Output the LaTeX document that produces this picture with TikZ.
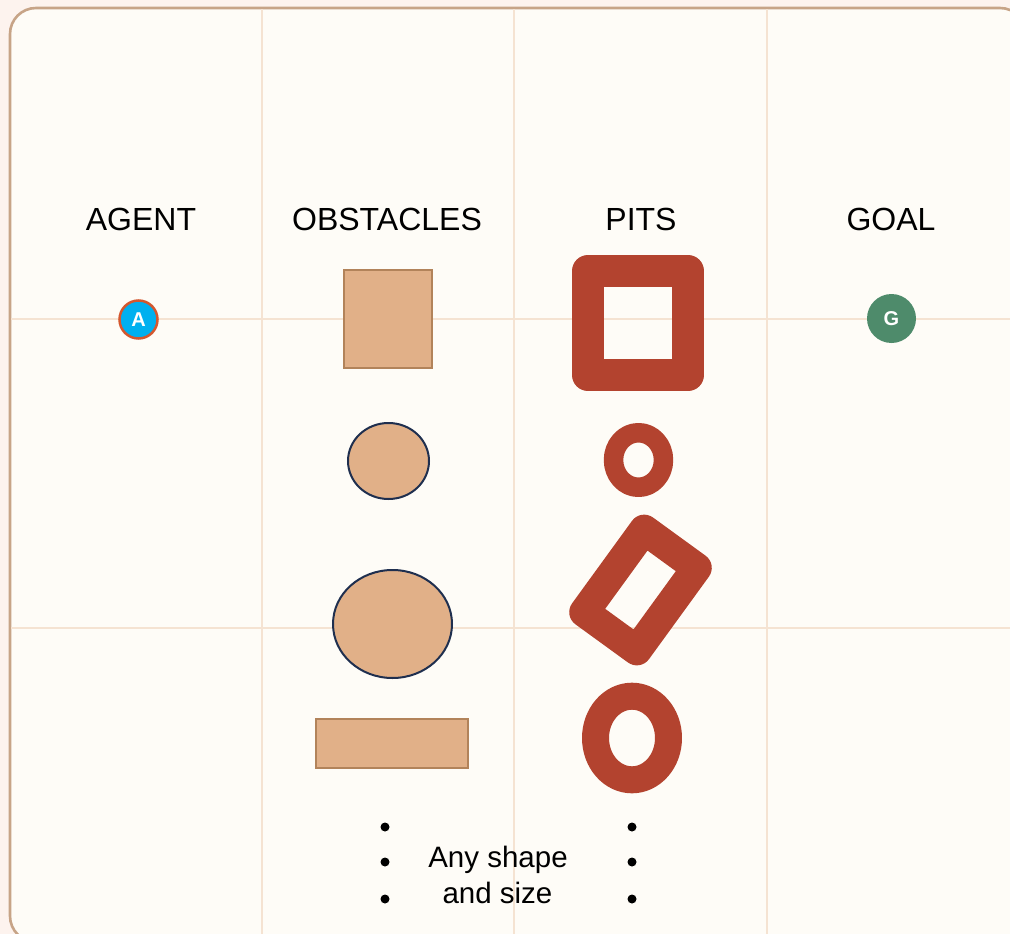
\documentclass[tikz,border=0pt]{standalone}
\usepackage{fontspec}
\setmainfont{Liberation Sans}
\usetikzlibrary{shapes.geometric}
\definecolor{outerbg}{HTML}{FDF3EE}
\definecolor{innerbg}{HTML}{FEFCF7}
\definecolor{framec}{HTML}{C7A487}
\definecolor{gridc}{HTML}{F5E3D2}
\definecolor{obsfill}{HTML}{E1B088}
\definecolor{obsedge}{HTML}{B2835A}
\definecolor{navy}{HTML}{1F2F4F}
\definecolor{pitc}{HTML}{B3432F}
\definecolor{agentc}{HTML}{00B0EF}
\definecolor{agentedge}{HTML}{D4572E}
\definecolor{goalc}{HTML}{4E8B6B}
\tikzset{
  header/.style={font=\fontsize{32}{38}\selectfont, anchor=base, inner sep=0pt},
  small/.style={font=\fontsize{29.5}{35}\selectfont, anchor=base, inner sep=0pt},
  gridline/.style={draw=gridc, line width=1.5pt},
  obsbox/.style={fill=obsfill, draw=obsedge, line width=2pt},
  obsround/.style={fill=obsfill, draw=navy, line width=2pt},
  pit/.style={draw=pitc, line join=round},
  dotc/.style={circle, fill=black, inner sep=0pt, minimum size=9pt},
}
\begin{document}
\begin{tikzpicture}[x=1pt, y=-1pt]
\useasboundingbox (0,0) rectangle (1010,934);
\fill[outerbg] (0,0) rectangle (1010,934);
\draw[framec, fill=innerbg, line width=2.6pt, rounded corners=26pt] (10,8) rectangle (1026,942);
% grid
\begin{scope}
\clip[rounded corners=26pt] (11,9) rectangle (1025,941);
\foreach \gx in {262,514,767} \draw[gridline] (\gx,9) -- (\gx,934);
\foreach \gy in {319,628} \draw[gridline] (11,\gy) -- (1010,\gy);
\end{scope}
% headers
\node[header] (hagent) at (141,230) {AGENT};
\node[header] (hobs) at (387,230) {OBSTACLES};
\node[header] (hpits) at (641,230) {PITS};
\node[header] (hgoal) at (891,230) {GOAL};
% agent and goal
\node[circle, fill=agentc, draw=agentedge, line width=2.5pt, minimum size=38pt, inner sep=0pt,
      text=white, font=\fontsize{20}{20}\selectfont\bfseries] (agent) at (138.5,319.5) {A};
\node[circle, fill=goalc, minimum size=49pt, inner sep=0pt,
      text=white, font=\fontsize{20}{20}\selectfont\bfseries] (goal) at (891.5,318.5) {G};
% obstacles
\node[obsbox, rectangle, minimum width=88pt, minimum height=98pt, inner sep=0pt] (obs1) at (388,319) {};
\node[obsround, ellipse, minimum width=81pt, minimum height=76pt, inner sep=0pt] (obs2) at (388.5,461) {};
\node[obsround, ellipse, minimum width=119pt, minimum height=108pt, inner sep=0pt] (obs3) at (392.5,624) {};
\node[obsbox, rectangle, minimum width=152pt, minimum height=49pt, inner sep=0pt] (obs4) at (392,743.5) {};
% pits
\draw[pit, line width=32pt] (588,271) rectangle (688,375);
\draw[pit, line width=19.5pt] (638.5,460) ellipse [x radius=25, y radius=27.3];
\begin{scope}[shift={(640.5,590)}, rotate=-36]
\draw[pit, line width=30pt] (-32.5,-51) rectangle (32.5,51);
\end{scope}
\draw[pit, line width=27pt] (632,738) ellipse [x radius=36.5, y radius=41.8];
% dots and caption
\foreach \i/\dy in {1/827,2/862,3/899} {
  \node[dotc] (ld\i) at (385,\dy) {};
  \node[dotc] (rd\i) at (632,\dy) {};
}
\node[small] (cap1) at (498,867) {Any shape};
\node[small] (cap2) at (497.5,903) {and size};
\end{tikzpicture}
\end{document}
